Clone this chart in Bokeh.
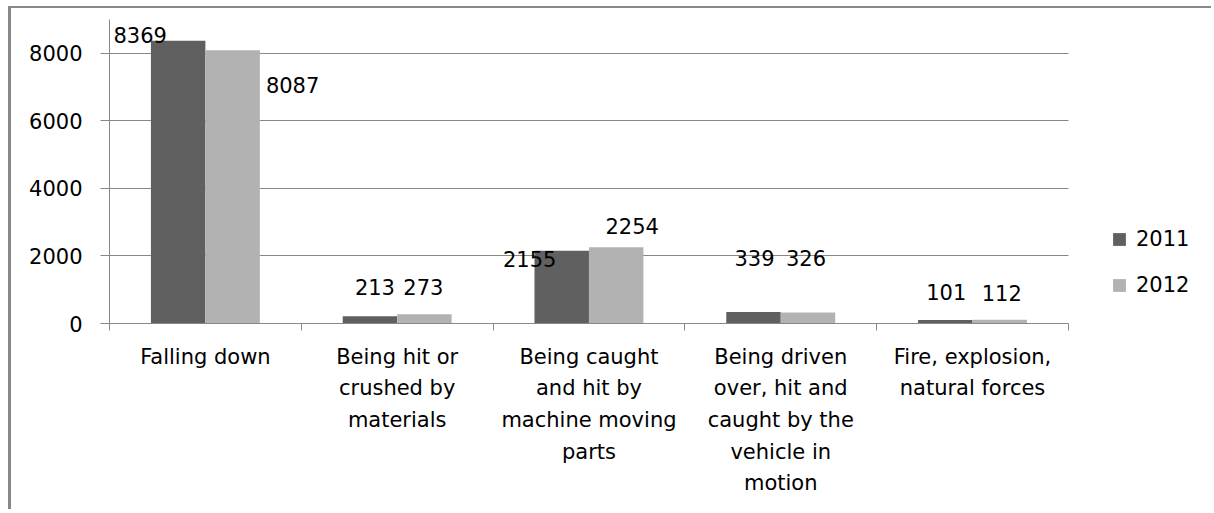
from bokeh.plotting import figure
from bokeh.models import (ColumnDataSource, LabelSet, FixedTicker, Range1d,
                          Legend, LegendItem)
from bokeh.core.properties import value
from bokeh.embed import file_html
from bokeh.resources import INLINE
import numpy as np

# ---- data ----
categories = [
    "Falling down",
    "Being hit or\ncrushed by\nmaterials",
    "Being caught\nand hit by\nmachine moving\nparts",
    "Being driven\nover, hit and\ncaught by the\nvehicle in\nmotion",
    "Fire, explosion,\nnatural forces",
]
series_names = ["2011", "2012"]
values_2011 = [8369, 213, 2155, 339, 101]
values_2012 = [8087, 273, 2254, 326, 112]
y_ticks = [0, 2000, 4000, 6000, 8000]

# ---- styles / label placement (pixels) ----
FONT = "DejaVu Sans"
FS = "21px"
DARK = "#606060"
LIGHT = "#b2b2b2"
GRID = "#888888"
BAR_W = 0.284
X_EXTRA = 0.72          # room on the right of the categories for the legend
lab_dx_2011 = [-38, 5, -32, 1, 1]
lab_dy_2011 = [6, 29, -8, 54, 28]
lab_dx_2012 = [60, -1, 16, -2, 2]
lab_dy_2012 = [-35, 27, 21, 54, 27]

n = len(categories)
centers = np.arange(n) + 0.5
boundaries = list(range(n + 1))

p = figure(width=1203, height=503, x_range=Range1d(0, n + X_EXTRA),
           y_range=Range1d(0, 9000),
           output_backend="svg", toolbar_location=None,
           min_border_left=98, min_border_right=8, min_border_top=11,
           min_border_bottom=188)
p.styles = {"margin-left": "8px", "margin-top": "6px",
            "border-left": "3px solid #888888", "border-top": "2px solid #888888"}
p.outline_line_color = None
p.background_fill_color = "white"
p.border_fill_color = "white"

src1 = ColumnDataSource(dict(x=centers - BAR_W / 2, top=values_2011,
                             lab=[str(v) for v in values_2011],
                             dx=lab_dx_2011, dy=lab_dy_2011))
src2 = ColumnDataSource(dict(x=centers + BAR_W / 2, top=values_2012,
                             lab=[str(v) for v in values_2012],
                             dx=lab_dx_2012, dy=lab_dy_2012))

r1 = p.vbar(x="x", top="top", width=BAR_W, bottom=0, source=src1,
            fill_color=DARK, line_color=None)
r2 = p.vbar(x="x", top="top", width=BAR_W, bottom=0, source=src2,
            fill_color=LIGHT, line_color=None)

for s in (src1, src2):
    p.add_layout(LabelSet(x="x", y="top", text="lab", x_offset="dx", y_offset="dy",
                          source=s, text_align="center", text_baseline="middle",
                          text_font=value(FONT), text_font_size=value(FS),
                          text_color="black"))

# x axis: category names at centres, tick marks at category boundaries
p.xaxis.bounds = (0, n)
p.xaxis.ticker = FixedTicker(ticks=list(centers), minor_ticks=boundaries)
p.xaxis.major_label_overrides = {float(c): t for c, t in zip(centers, categories)}
p.xaxis.major_tick_line_color = None
p.xaxis.major_tick_out = 0
p.xaxis.major_tick_in = 0
p.xaxis.minor_tick_line_color = GRID
p.xaxis.minor_tick_out = 7
p.xaxis.minor_tick_in = 0
p.xaxis.axis_line_color = GRID
p.xaxis.major_label_standoff = 14
p.xaxis.major_label_text_font = FONT
p.xaxis.major_label_text_font_size = FS
p.xaxis.major_label_text_color = "black"
p.xaxis.major_label_text_line_height = 1.32

p.yaxis.ticker = FixedTicker(ticks=y_ticks)
p.yaxis.major_tick_out = 9
p.yaxis.major_tick_in = 0
p.yaxis.minor_tick_line_color = None
p.yaxis.axis_line_color = GRID
p.yaxis.major_tick_line_color = GRID
p.yaxis.major_label_standoff = 18
p.yaxis.major_label_text_font = FONT
p.yaxis.major_label_text_font_size = FS
p.yaxis.major_label_text_color = "black"

p.xgrid.grid_line_color = None
yg = p.ygrid[0]
yg.grid_line_color = GRID
yg.ticker = FixedTicker(ticks=y_ticks)
if "cross_bounds" in yg.properties():
    yg.cross_bounds = (0, n)

legend = Legend(items=[LegendItem(label=series_names[0], renderers=[r1]),
                       LegendItem(label=series_names[1], renderers=[r2])],
                location=(1002, 26), orientation="vertical",
                glyph_width=16, glyph_height=16, label_height=16,
                spacing=22, padding=0, margin=0, label_standoff=9,
                border_line_color=None, background_fill_alpha=0,
                label_text_font=FONT, label_text_font_size=FS,
                label_text_color="black")
p.add_layout(legend)

open("out.html", "w").write(file_html(p, INLINE))
